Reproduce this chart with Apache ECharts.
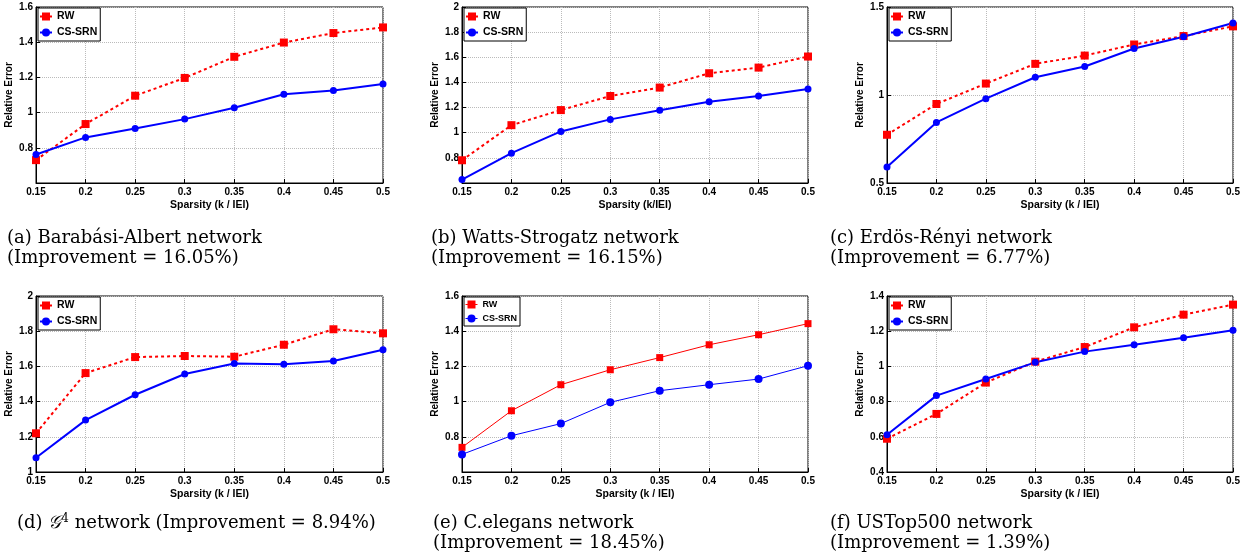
<!DOCTYPE html>
<html lang="en" style="height: 100%">
<head>
  <meta charset="utf-8">
</head>
<body style="height: 100%; margin: 0; background: #fff">
  <div id="container" style="width: 1249px; height: 560px"></div>

  <script type="text/javascript" src="https://fastly.jsdelivr.net/npm/echarts@6/dist/echarts.min.js"></script>
  <script type="text/javascript">
    // sparsity levels on every x axis
    var sparsity = ['0.15', '0.2', '0.25', '0.3', '0.35', '0.4', '0.45', '0.5'];

    // relative error
    var rwBA = [0.73, 0.935, 1.096, 1.197, 1.317, 1.398, 1.452, 1.484];
    var srnBA = [0.762, 0.859, 0.91, 0.963, 1.028, 1.104, 1.125, 1.163];
    var rwWS = [0.781, 1.06, 1.18, 1.292, 1.359, 1.473, 1.518, 1.606];
    var srnWS = [0.627, 0.837, 1.01, 1.106, 1.178, 1.247, 1.292, 1.348];
    var rwER = [0.774, 0.949, 1.065, 1.177, 1.224, 1.287, 1.335, 1.39];
    var srnER = [0.591, 0.844, 0.979, 1.101, 1.162, 1.264, 1.331, 1.409];
    var rwG4 = [1.22, 1.562, 1.653, 1.659, 1.655, 1.723, 1.811, 1.788];
    var srnG4 = [1.081, 1.295, 1.439, 1.557, 1.616, 1.612, 1.631, 1.695];
    var rwCE = [0.74, 0.948, 1.096, 1.181, 1.25, 1.323, 1.38, 1.443];
    var srnCE = [0.7, 0.806, 0.875, 0.996, 1.062, 1.096, 1.128, 1.204];
    var rwUS = [0.589, 0.73, 0.908, 1.027, 1.11, 1.222, 1.294, 1.351];
    var srnUS = [0.612, 0.834, 0.928, 1.023, 1.084, 1.123, 1.163, 1.205];

    var rwData = [rwBA, rwWS, rwER, rwG4, rwCE, rwUS];
    var srnData = [srnBA, srnWS, srnER, srnG4, srnCE, srnUS];

    // y axis ranges per panel
    var yMin = [0.6, 0.6, 0.5, 1, 0.6, 0.4];
    var yMax = [1.6, 2, 1.5, 2, 1.6, 1.4];
    var yStep = [0.2, 0.2, 0.5, 0.2, 0.2, 0.2];
    var showMin = [false, false, true, true, false, true];
    var xNames = ['Sparsity (k / IEI)', 'Sparsity (k/IEI)', 'Sparsity (k / IEI)',
      'Sparsity (k / IEI)', 'Sparsity (k / IEI)', 'Sparsity (k / IEI)'];

    var captions = [
      '(a) Barabási-Albert network\n(Improvement = 16.05%)',
      '(b) Watts-Strogatz network\n(Improvement = 16.15%)',
      '(c) Erdös-Rényi network\n(Improvement = 6.77%)',
      '(d) {g|𝒢}{s|4} network (Improvement = 8.94%)',
      '(e) C.elegans network\n(Improvement = 18.45%)',
      '(f) USTop500 network\n(Improvement = 1.39%)'
    ];

    var lefts = [36, 462, 887];
    var widths = [347, 346, 346];
    var tops = [7, 296];
    var capLeft = [7, 431, 830, 17, 433, 830];
    var capTop = [228, 228, 228, 513, 513, 513];

    var dom = document.getElementById('container');
    var myChart = echarts.init(dom, null, { renderer: 'canvas' });

    var bold = { fontFamily: 'Liberation Sans', fontWeight: 'bold', fontSize: 10, color: '#000' };

    var grid = [], xAxis = [], yAxis = [], series = [], legend = [], title = [];
    for (var i = 0; i < 6; i++) {
      var col = i % 3, row = Math.floor(i / 3);
      var thin = i === 4; // C.elegans panel uses thin solid lines
      grid.push({
        left: lefts[col], top: tops[row], width: widths[col], height: 176,
        show: true, borderColor: '#000', borderWidth: 1, backgroundColor: '#fff'
      });
      xAxis.push({
        type: 'category', gridIndex: i, data: sparsity, boundaryGap: false,
        name: xNames[i], nameLocation: 'middle', nameGap: 17,
        nameTextStyle: Object.assign({}, bold, { fontSize: 10.5 }),
        axisLine: { lineStyle: { color: '#000', width: 1 } },
        axisTick: { inside: true, length: 4, lineStyle: { color: '#000' } },
        axisLabel: Object.assign({ margin: 4, showMinLabel: true, showMaxLabel: true }, bold),
        splitLine: { show: true, lineStyle: { color: '#bbb', type: 'dotted' } }
      });
      yAxis.push({
        type: 'value', gridIndex: i, min: yMin[i], max: yMax[i], interval: yStep[i],
        name: 'Relative Error', nameLocation: 'middle', nameGap: 22, nameTextStyle: bold,
        axisLine: { show: true, lineStyle: { color: '#000', width: 1 } },
        axisTick: { show: true, inside: true, length: 4, lineStyle: { color: '#000' } },
        axisLabel: Object.assign({ margin: 3, showMinLabel: showMin[i] }, bold),
        splitLine: { show: true, lineStyle: { color: '#bbb', type: 'dotted' } }
      });
      series.push({
        name: 'RW', type: 'line', xAxisIndex: i, yAxisIndex: i, data: rwData[i],
        symbol: 'rect', symbolSize: thin ? 7 : 8, color: '#ff0000',
        lineStyle: { color: '#ff0000', width: thin ? 1 : 2, type: thin ? 'solid' : [3, 3] },
        itemStyle: { color: '#ff0000' }, animation: false
      });
      series.push({
        name: 'CS-SRN', type: 'line', xAxisIndex: i, yAxisIndex: i, data: srnData[i],
        symbol: 'circle', symbolSize: thin ? 8 : 7, color: '#0000ff',
        lineStyle: { color: '#0000ff', width: thin ? 1 : 2, type: 'solid' },
        itemStyle: { color: '#0000ff' }, animation: false, z: 3
      });
      legend.push({
        left: lefts[col] + 2, top: tops[row] + 1, orient: 'vertical',
        selectedMode: false,
        backgroundColor: '#fff', borderColor: '#000', borderWidth: 1,
        padding: [3, 3, 3, 1], itemGap: 5, itemWidth: 12, itemHeight: 10,
        textStyle: Object.assign({}, bold, { fontSize: thin ? 9 : 10.5 }),
        data: [
          { name: 'RW', lineStyle: { width: thin ? 1 : 2, type: thin ? 'solid' : [3, 2] } },
          { name: 'CS-SRN', lineStyle: { width: thin ? 1 : 2 } }
        ]
      });
      title.push({
        text: captions[i], left: capLeft[i], top: capTop[i], padding: 0,
        textStyle: {
          fontFamily: 'DejaVu Serif', fontWeight: 'normal', fontSize: 18,
          lineHeight: 20, color: '#000',
          rich: {
            g: { fontFamily: 'DejaVu Sans', fontSize: 18, fontStyle: 'italic' },
            s: { fontFamily: 'DejaVu Serif', fontSize: 12, verticalAlign: 'top', padding: [0, 0, 8, 0] }
          }
        }
      });
    }

    var option = {
      backgroundColor: '#fff',
      animation: false,
      title: title,
      legend: legend,
      grid: grid,
      xAxis: xAxis,
      yAxis: yAxis,
      series: series
    };

    myChart.setOption(option);
    window.addEventListener('resize', myChart.resize);
  </script>
</body>
</html>
